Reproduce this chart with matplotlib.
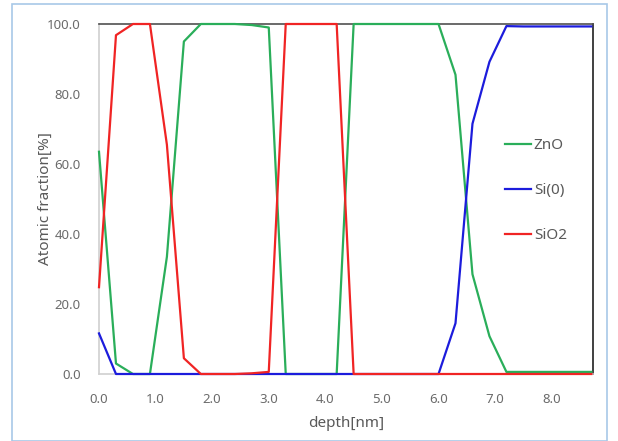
import matplotlib
matplotlib.use("Agg")
import matplotlib.pyplot as plt
from matplotlib.patches import Rectangle

# depth profile, 0.3 nm steps
depth = [0.0, 0.3, 0.6, 0.9, 1.2, 1.5, 1.8, 2.1, 2.4, 2.7,
         3.0, 3.3, 3.6, 3.9, 4.2, 4.5, 4.8, 5.1, 5.4, 5.7,
         6.0, 6.3, 6.6, 6.9, 7.2, 7.5, 7.8, 8.1, 8.4, 8.7]
zno = [63.5, 3.0, 0.0, 0.0, 33.5, 95.0, 100.0, 100.0, 100.0, 99.7,
       99.0, 0.0, 0.0, 0.0, 0.0, 100.0, 100.0, 100.0, 100.0, 100.0,
       100.0, 85.5, 28.5, 10.8, 0.6, 0.6, 0.6, 0.6, 0.6, 0.6]
si0 = [11.6, 0.0, 0.0, 0.0, 0.0, 0.0, 0.0, 0.0, 0.0, 0.0,
       0.0, 0.0, 0.0, 0.0, 0.0, 0.0, 0.0, 0.0, 0.0, 0.0,
       0.0, 14.5, 71.5, 89.2, 99.4, 99.3, 99.3, 99.3, 99.3, 99.3]
sio2 = [24.8, 96.8, 100.0, 100.0, 65.5, 4.5, 0.0, 0.0, 0.0, 0.2,
        0.6, 100.0, 100.0, 100.0, 100.0, 0.0, 0.0, 0.0, 0.0, 0.0,
        0.0, 0.0, 0.0, 0.0, 0.0, 0.0, 0.0, 0.0, 0.0, 0.0]

series = [("ZnO", zno, "#2aae5a"), ("Si(0)", si0, "#1c1cdc"), ("SiO2", sio2, "#f02424")]

plt.rcParams['font.family'] = ['Noto Sans', 'DejaVu Sans']

fig = plt.figure(figsize=(6.18, 4.41), dpi=100)
ax = fig.add_axes([99/618, 1 - 374/441, 494/618, 350/441])

for name, vals, col in series:
    ax.plot(depth, vals, color=col, lw=1.6, label=name, zorder=3, clip_on=False)

ax.set_xlim(0, 8.73)
ax.set_ylim(0, 100)
ax.set_xticks(range(0, 9))
ax.set_yticks(range(0, 101, 20))
ax.xaxis.set_major_formatter(matplotlib.ticker.FormatStrFormatter('%.1f'))
ax.yaxis.set_major_formatter(matplotlib.ticker.FormatStrFormatter('%.1f'))
ax.tick_params(length=0, labelsize=9.5, labelcolor='#6b6b6b')
ax.tick_params(axis='x', pad=14)
ax.tick_params(axis='y', pad=13)

ax.spines['left'].set_color('#d0d0d0')
ax.spines['bottom'].set_color('#d0d0d0')
ax.spines['top'].set_color('#505050')
ax.spines['right'].set_color('#202020')
for s in ax.spines.values():
    s.set_linewidth(1.2)

ax.set_xlabel('depth[nm]', fontsize=11, color='#595959', labelpad=7)
ax.set_ylabel('Atomic fraction[%]', fontsize=11, color='#595959', labelpad=-4)

ax.legend(loc='center left', bbox_to_anchor=(0.806, 0.524), frameon=False,
          fontsize=11, labelcolor='#595959', handlelength=1.7,
          handletextpad=0.2, labelspacing=1.95, borderpad=0)

# light blue frame around the chart
fig.patches.append(Rectangle((12/618, 0.0), 595/618, 437/441, transform=fig.transFigure,
                             fill=False, edgecolor='#a8c8e8', lw=1.2))

fig.savefig('out.png', dpi=100)
